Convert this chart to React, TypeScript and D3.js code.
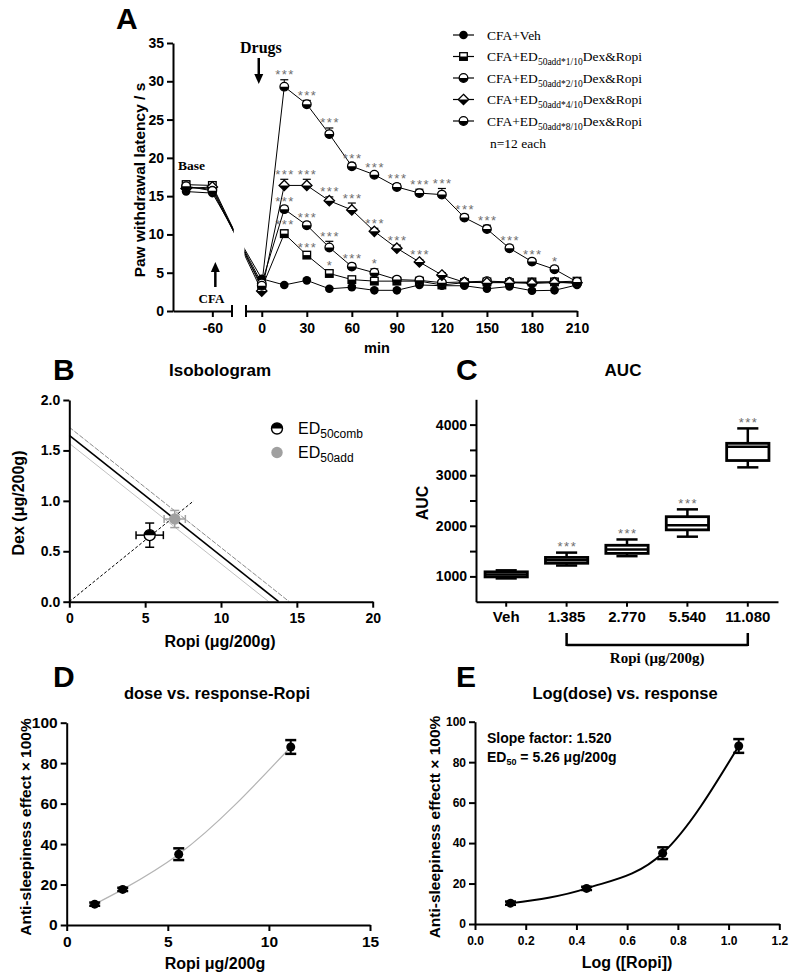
import React, { useRef, useEffect } from 'react';
import * as d3 from 'd3';

const SANS = "'Liberation Sans', Arial, Helvetica, sans-serif";
const SERIF = "'Liberation Serif', 'Times New Roman', Times, serif";
const STAR = '#6e6e6e';

// ---------- A: paw withdrawal latency over time ----------
const timePoints = [-80, -60, 0, 15, 30, 45, 60, 75, 90, 105, 120, 135, 150, 165, 180, 195, 210];
const latencyVeh = [15.6, 15.4, 4.2, 3.4, 4.0, 2.9, 3.1, 2.7, 2.7, 3.4, 3.3, 3.3, 2.9, 3.2, 2.65, 2.7, 3.4];
const latency1 = [16.5, 16.4, 3.0, 10.1, 7.3, 4.9, 4.1, 3.9, 3.9, 3.9, 3.4, 3.7, 3.8, 3.7, 3.8, 3.8, 3.9];
const latency2 = [16.2, 15.9, 3.6, 13.3, 11.2, 8.3, 5.8, 5.0, 4.1, 4.0, 3.7, 3.8, 3.9, 3.8, 3.7, 3.8, 3.6];
const latency4 = [16.0, 16.2, 2.6, 16.4, 16.4, 14.4, 13.2, 10.4, 8.2, 6.4, 4.7, 3.75, 3.7, 3.7, 3.6, 3.7, 3.7];
const latency8 = [16.3, 15.7, 3.3, 29.3, 27.0, 23.1, 18.9, 17.8, 16.2, 15.4, 15.2, 12.2, 10.7, 8.2, 6.45, 5.45, 3.8];
const semVeh = [0.4, 0.4, 0.3, 0.2, 0.2, 0.2, 0.2, 0.2, 0.2, 0.2, 0.2, 0.2, 0.2, 0.2, 0.2, 0.2, 0.2];
const sem1 = [0.5, 0.5, 0.3, 0.5, 0.4, 0.4, 0.3, 0.3, 0.3, 0.3, 0.3, 0.3, 0.3, 0.3, 0.3, 0.3, 0.3];
const sem2 = [0.5, 0.5, 0.3, 0.4, 0.4, 0.8, 0.4, 0.5, 0.3, 0.3, 0.3, 0.3, 0.3, 0.3, 0.3, 0.3, 0.3];
const sem4 = [0.5, 0.5, 0.3, 0.8, 0.8, 0.5, 0.9, 0.4, 0.4, 0.3, 0.3, 0.3, 0.3, 0.3, 0.3, 0.3, 0.3];
const sem8 = [0.6, 0.6, 0.3, 0.9, 0.5, 0.8, 0.4, 0.3, 0.4, 0.5, 0.8, 0.4, 0.5, 0.4, 0.3, 0.4, 0.3];
const sigVeh = ['', '', '', '', '', '', '', '', '', '', '', '', '', '', '', '', ''];
const sig1 = ['', '', '', '***', '***', '*', '', '', '', '', '', '', '', '', '', '', ''];
const sig2 = ['', '', '', '***', '***', '***', '***', '*', '', '', '', '', '', '', '', '', ''];
const sig4 = ['', '', '', '***', '***', '***', '***', '***', '***', '***', '', '', '', '', '', '', ''];
const sig8 = ['', '', '', '***', '***', '***', '***', '***', '***', '***', '***', '***', '***', '***', '***', '*', ''];
const legendMain = ['CFA+Veh', 'CFA+ED', 'CFA+ED', 'CFA+ED', 'CFA+ED'];
const legendSub = ['', '50add*1/10', '50add*2/10', '50add*4/10', '50add*8/10'];
const legendTail = ['', 'Dex&Ropi', 'Dex&Ropi', 'Dex&Ropi', 'Dex&Ropi'];
const latencyTicks = [0, 5, 10, 15, 20, 25, 30, 35];
const postTicks = [0, 30, 60, 90, 120, 150, 180, 210];

// ---------- B: isobologram ----------
const isoRopi = [0, 13.8];
const isoDex = [1.65, 0];
const isoUpperRopi = [0, 14.5];
const isoUpperDex = [1.73, 0];
const isoLowerRopi = [0, 13.15];
const isoLowerDex = [1.57, 0];
const rayRopi = [0, 8.2];
const rayDex = [0, 1.0];
const combPoint = { ropi: 5.3, dex: 0.66, ropiErr: 0.9, dexErr: 0.12 };
const addPoint = { ropi: 6.95, dex: 0.82, ropiErr: 0.7, dexErr: 0.085 };

// ---------- C: AUC box plots ----------
const aucGroups = ['Veh', '1.385', '2.770', '5.540', '11.080'];
const aucMin = [960, 1215, 1400, 1785, 3155];
const aucQ1 = [990, 1260, 1455, 1920, 3290];
const aucMedian = [1040, 1320, 1530, 2010, 3560];
const aucQ3 = [1090, 1375, 1615, 2180, 3630];
const aucMax = [1120, 1470, 1730, 2325, 3925];
const aucSig = ['', '***', '***', '***', '***'];
const aucTicks = [1000, 1500, 2000, 2500, 3000, 3500, 4000];

// ---------- D / E: dose response ----------
const ropiDose = [1.385, 2.77, 5.54, 11.08];
const logRopiDose = [0.14, 0.44, 0.74, 1.04];
const antiEffect = [10.3, 17.6, 35.0, 88.0];
const antiErr = [0.8, 0.8, 2.9, 3.4];

type Sel = d3.Selection<any, any, any, any>;

function styleAxis(g: Sel, size: number) {
  g.attr('font-family', SANS);
  g.select('.domain').attr('stroke', '#000').attr('stroke-width', 2);
  g.selectAll('.tick line').attr('stroke', '#000').attr('stroke-width', 2);
  g.selectAll('.tick text').attr('fill', '#000').attr('font-size', size).attr('font-weight', 'bold');
}

function addText(svg: Sel, x: number, y: number, txt: string, size: number, opts: any = {}) {
  const t = svg.append('text')
    .attr('x', x).attr('y', y)
    .attr('font-family', opts.family || SANS)
    .attr('font-weight', opts.weight || 'bold')
    .attr('font-size', size)
    .attr('fill', opts.fill || '#000')
    .attr('text-anchor', opts.anchor || 'start')
    .text(txt);
  if (opts.rotate) t.attr('transform', `rotate(-90, ${x}, ${y})`);
  return t;
}

function drawMarker(g: Sel, kind: string, x: number, y: number) {
  const m = g.append('g').attr('transform', `translate(${x},${y})`);
  if (kind === 'filled') {
    m.append('circle').attr('r', 4.3).attr('fill', '#000');
  } else if (kind === 'square') {
    const s = 3.8;
    m.append('rect').attr('x', -s).attr('y', -s).attr('width', 2 * s).attr('height', 2 * s)
      .attr('fill', '#fff').attr('stroke', '#000').attr('stroke-width', 1.3);
    m.append('rect').attr('x', -s).attr('y', 0).attr('width', 2 * s).attr('height', s).attr('fill', '#000');
  } else if (kind === 'diamond') {
    const d = 5.2;
    m.append('path').attr('d', `M0,${-d}L${d},0L0,${d}L${-d},0Z`)
      .attr('fill', '#fff').attr('stroke', '#000').attr('stroke-width', 1.3);
    m.append('path').attr('d', `M${-d},0L${d},0L0,${d}Z`).attr('fill', '#000');
  } else {
    const r = 4.3;
    m.append('circle').attr('r', r).attr('fill', '#fff').attr('stroke', '#000').attr('stroke-width', 1.3);
    m.append('path').attr('d', `M${-r},0A${r},${r} 0 0 0 ${r},0Z`).attr('fill', '#000');
  }
}

function arrow(svg: Sel, x: number, y1: number, y2: number) {
  // y1 = tail, y2 = tip
  const dir = y2 > y1 ? 1 : -1;
  svg.append('line').attr('x1', x).attr('x2', x).attr('y1', y1).attr('y2', y2 - dir * 8)
    .attr('stroke', '#000').attr('stroke-width', 2.5);
  svg.append('path').attr('d', `M${x - 4.5},${y2 - dir * 10}L${x + 4.5},${y2 - dir * 10}L${x},${y2}Z`).attr('fill', '#000');
}

function stars(g: Sel, x: number, y: number, txt: string) {
  g.append('text').attr('x', x + 0.8).attr('y', y)
    .attr('text-anchor', 'middle').attr('font-family', SANS).attr('font-size', 13)
    .attr('letter-spacing', 1.5).attr('fill', STAR).text(txt);
}

function drawPanelA(svg: Sel) {
  const yA = d3.scaleLinear().domain([0, 35]).range([311, 43]);
  const xBase = d3.scaleLinear().domain([-90, -45]).range([173, 232]);
  const xPost = d3.scaleLinear().domain([-10.5, 210]).range([246, 577]);
  const xA = (t: number) => (t < -30 ? xBase(t) : xPost(t));

  const clip = svg.append('defs').append('clipPath').attr('id', 'gapClip');
  clip.append('rect').attr('x', 0).attr('y', 0).attr('width', xBase.range()[1] + 1.5).attr('height', 978);
  clip.append('rect').attr('x', xPost.range()[0] - 1.5).attr('y', 0).attr('width', 792).attr('height', 978);

  const series = [
    { values: latencyVeh, sem: semVeh, sig: sigVeh, marker: 'filled' },
    { values: latency1, sem: sem1, sig: sig1, marker: 'square' },
    { values: latency2, sem: sem2, sig: sig2, marker: 'circle' },
    { values: latency4, sem: sem4, sig: sig4, marker: 'diamond' },
    { values: latency8, sem: sem8, sig: sig8, marker: 'circle' },
  ];

  const g = svg.append('g');
  const line = d3.line<number>().x((d, i) => xA(timePoints[i])).y(d => yA(d));

  series.forEach(s => {
    g.append('path').attr('d', line(s.values)).attr('fill', 'none')
      .attr('stroke', '#000').attr('stroke-width', 1).attr('clip-path', 'url(#gapClip)');
  });
  series.forEach(s => {
    s.values.forEach((v, i) => {
      const x = xA(timePoints[i]);
      const top = yA(v + s.sem[i]);
      g.append('line').attr('x1', x).attr('x2', x).attr('y1', yA(v)).attr('y2', top)
        .attr('stroke', '#000').attr('stroke-width', 1);
      g.append('line').attr('x1', x - 4).attr('x2', x + 4).attr('y1', top).attr('y2', top)
        .attr('stroke', '#000').attr('stroke-width', 1.2);
    });
  });
  series.forEach(s => {
    s.values.forEach((v, i) => drawMarker(g, s.marker, xA(timePoints[i]), yA(v)));
  });
  series.forEach(s => {
    s.values.forEach((v, i) => {
      if (s.sig[i]) stars(g, xA(timePoints[i]), yA(v + s.sem[i]) - 0.5, s.sig[i]);
    });
  });

  // axes
  const ay = svg.append('g').attr('transform', 'translate(173,0)')
    .call(d3.axisLeft(yA).tickValues(latencyTicks).tickSize(6).tickSizeOuter(0).tickPadding(3));
  styleAxis(ay, 14);
  const axb = svg.append('g').attr('transform', 'translate(0,311)')
    .call(d3.axisBottom(xBase).tickValues([-60]).tickSize(6).tickSizeOuter(0).tickPadding(6)
      .tickFormat(d => String(d)));
  styleAxis(axb, 14);
  const axp = svg.append('g').attr('transform', 'translate(0,311)')
    .call(d3.axisBottom(xPost).tickValues(postTicks).tickSize(6).tickSizeOuter(0).tickPadding(6)
      .tickFormat(d => String(d)));
  styleAxis(axp, 14);
  [xBase.range()[1], xPost.range()[0]].forEach(x => {
    svg.append('line').attr('x1', x).attr('x2', x).attr('y1', 305).attr('y2', 317)
      .attr('stroke', '#000').attr('stroke-width', 2);
  });

  addText(svg, 116, 29, 'A', 30);
  addText(svg, 145, 180, 'Paw withdrawal latency / s', 15.5, { anchor: 'middle', rotate: true });
  addText(svg, 377, 353, 'min', 14.5, { anchor: 'middle' });

  // annotations
  addText(svg, 240, 53, 'Drugs', 16, { family: SERIF });
  arrow(svg, xPost(0) - 3, 58, 84);
  addText(svg, 178, 170, 'Base', 13.5, { family: SERIF });
  addText(svg, 211.5, 303, 'CFA', 13, { family: SERIF, anchor: 'middle' });
  arrow(svg, xBase(-60) + 3, 287, 262);

  // legend
  const legendTop = 35;
  const rowGap = 21.5;
  const kinds = ['filled', 'square', 'circle', 'diamond', 'circle'];
  legendMain.forEach((txt, i) => {
    const y = legendTop + i * rowGap;
    svg.append('line').attr('x1', 453).attr('x2', 474).attr('y1', y).attr('y2', y)
      .attr('stroke', '#000').attr('stroke-width', 1.2);
    drawMarker(svg, kinds[i], 463.5, y);
    const t = svg.append('text').attr('x', 487).attr('y', y + 4.5)
      .attr('font-family', SERIF).attr('font-size', 13.5).attr('fill', '#000');
    t.append('tspan').text(txt);
    if (legendSub[i]) {
      t.append('tspan').attr('font-size', 9.5).attr('dy', 4).text(legendSub[i]);
      t.append('tspan').attr('dy', -4).text(legendTail[i]);
    }
  });
  addText(svg, 490, legendTop + 5 * rowGap + 5, 'n=12 each', 13.5, { family: SERIF, weight: 'normal' });
}

function drawPanelB(svg: Sel) {
  const x = d3.scaleLinear().domain([0, 20]).range([69.3, 372.7]);
  const y = d3.scaleLinear().domain([0, 2]).range([601.7, 400]);
  const seg = (xs: number[], ys: number[], stroke: string, w: number, dash?: string) => {
    const p = svg.append('line').attr('x1', x(xs[0])).attr('y1', y(ys[0]))
      .attr('x2', x(xs[1])).attr('y2', y(ys[1]))
      .attr('stroke', stroke).attr('stroke-width', w);
    if (dash) p.attr('stroke-dasharray', dash);
  };
  seg(isoUpperRopi, isoUpperDex, '#8a8a8a', 1, '5,1.5');
  seg(isoLowerRopi, isoLowerDex, '#c0c0c0', 1);
  seg(isoRopi, isoDex, '#000', 1.6);
  seg(rayRopi, rayDex, '#000', 1, '3,2');

  const errBars = (p: any, color: string) => {
    const cx = x(p.ropi), cy = y(p.dex);
    const x0 = x(p.ropi - p.ropiErr), x1 = x(p.ropi + p.ropiErr);
    const y0 = y(p.dex - p.dexErr), y1 = y(p.dex + p.dexErr);
    const ln = (a: number, b: number, c: number, d: number) => svg.append('line')
      .attr('x1', a).attr('y1', b).attr('x2', c).attr('y2', d).attr('stroke', color).attr('stroke-width', 1.5);
    ln(x0, cy, x1, cy); ln(x0, cy - 4, x0, cy + 4); ln(x1, cy - 4, x1, cy + 4);
    ln(cx, y0, cx, y1); ln(cx - 4.5, y0, cx + 4.5, y0); ln(cx - 4.5, y1, cx + 4.5, y1);
  };
  errBars(addPoint, '#a0a0a0');
  svg.append('circle').attr('cx', x(addPoint.ropi)).attr('cy', y(addPoint.dex)).attr('r', 5.7).attr('fill', '#a0a0a0');
  errBars(combPoint, '#000');
  const comb = (cx: number, cy: number) => {
    const r = 5.5;
    svg.append('circle').attr('cx', cx).attr('cy', cy).attr('r', r).attr('fill', '#fff')
      .attr('stroke', '#000').attr('stroke-width', 1.4);
    svg.append('path').attr('transform', `translate(${cx},${cy})`)
      .attr('d', `M${-r},0A${r},${r} 0 0 1 ${r},0Z`).attr('fill', '#000');
  };
  comb(x(combPoint.ropi), y(combPoint.dex));

  const ay = svg.append('g').attr('transform', `translate(${x(0)},0)`)
    .call(d3.axisLeft(y).ticks(4).tickSize(6).tickSizeOuter(0).tickPadding(3).tickFormat(d3.format('.1f')));
  styleAxis(ay, 14);
  const ax = svg.append('g').attr('transform', `translate(0,${y(0)})`)
    .call(d3.axisBottom(x).ticks(4).tickSize(6).tickSizeOuter(0).tickPadding(5));
  styleAxis(ax, 14);

  addText(svg, 53, 380, 'B', 30);
  addText(svg, 220, 376, 'Isobologram', 17, { anchor: 'middle' });
  addText(svg, 24, 503, 'Dex (μg/200g)', 16, { anchor: 'middle', rotate: true });
  addText(svg, 220, 647, 'Ropi (μg/200g)', 16, { anchor: 'middle' });

  // legend
  comb(277, 428.5);
  svg.append('circle').attr('cx', 277).attr('cy', 452.5).attr('r', 5.7).attr('fill', '#a0a0a0');
  [['50comb', 434], ['50add', 458]].forEach(([sub, yy]) => {
    const t = svg.append('text').attr('x', 298).attr('y', yy as number)
      .attr('font-family', SANS).attr('font-size', 16).attr('fill', '#000');
    t.append('tspan').text('ED');
    t.append('tspan').attr('font-size', 12).attr('dy', 4).text(sub as string);
  });
}

function drawPanelC(svg: Sel) {
  const x = d3.scaleBand().domain(aucGroups).range([476, 778]).paddingInner(0.3).paddingOuter(0.15);
  const y = d3.scaleLinear().domain([500, 4500]).range([601.7, 399.3]);
  const w = x.bandwidth();
  aucGroups.forEach((grp, i) => {
    const x0 = x(grp) as number;
    const cx = x0 + w / 2;
    const ln = (a: number, b: number, c: number, d: number) => svg.append('line')
      .attr('x1', a).attr('y1', b).attr('x2', c).attr('y2', d).attr('stroke', '#000').attr('stroke-width', 2.5);
    ln(cx, y(aucMin[i]), cx, y(aucQ1[i]));
    ln(cx, y(aucQ3[i]), cx, y(aucMax[i]));
    ln(cx - w / 4, y(aucMin[i]), cx + w / 4, y(aucMin[i]));
    ln(cx - w / 4, y(aucMax[i]), cx + w / 4, y(aucMax[i]));
    svg.append('rect').attr('x', x0).attr('y', y(aucQ3[i])).attr('width', w)
      .attr('height', y(aucQ1[i]) - y(aucQ3[i])).attr('fill', '#fff')
      .attr('stroke', '#000').attr('stroke-width', 2.8);
    ln(x0, y(aucMedian[i]), x0 + w, y(aucMedian[i]));
    if (aucSig[i]) stars(svg, cx, y(aucMax[i]) - 1.5, aucSig[i]);
  });

  const ay = svg.append('g').attr('transform', 'translate(476,0)')
    .call(d3.axisLeft(y).tickValues(aucTicks).tickSize(6).tickSizeOuter(0).tickPadding(3)
      .tickFormat(d => (+d % 1000 === 0 ? String(d) : '')));
  styleAxis(ay, 14);
  const ax = svg.append('g').attr('transform', `translate(0,${y(500)})`)
    .call(d3.axisBottom(x).tickSize(5).tickSizeOuter(0).tickPadding(5));
  styleAxis(ax, 15);

  // dose bracket
  const bx0 = (x('1.385') as number) + w / 2;
  const bx1 = (x('11.080') as number) + w / 2;
  svg.append('path').attr('d', `M${bx0},633V646M${bx0},645H${bx1}M${bx1},633V646`)
    .attr('fill', 'none').attr('stroke', '#000').attr('stroke-width', 2.5);
  addText(svg, (bx0 + bx1) / 2, 663, 'Ropi (μg/200g)', 15, { family: SERIF, anchor: 'middle' });

  addText(svg, 456, 380, 'C', 30);
  addText(svg, 623, 376, 'AUC', 17, { anchor: 'middle' });
  addText(svg, 428, 503, 'AUC', 16, { anchor: 'middle', rotate: true });
}

function doseResponse(svg: Sel, xs: number[], x: d3.ScaleLinear<number, number>, y: d3.ScaleLinear<number, number>,
  curveColor: string, curveWidth: number) {
  const line = d3.line<number>().x((d, i) => x(xs[i])).y(d => y(d)).curve(d3.curveMonotoneX);
  svg.append('path').attr('d', line(antiEffect)).attr('fill', 'none')
    .attr('stroke', curveColor).attr('stroke-width', curveWidth);
  antiEffect.forEach((v, i) => {
    const cx = x(xs[i]);
    const top = y(v + antiErr[i]), bot = y(v - antiErr[i]);
    svg.append('line').attr('x1', cx).attr('x2', cx).attr('y1', top).attr('y2', bot)
      .attr('stroke', '#000').attr('stroke-width', 2);
    [top, bot].forEach(yy => svg.append('line').attr('x1', cx - 5.5).attr('x2', cx + 5.5)
      .attr('y1', yy).attr('y2', yy).attr('stroke', '#000').attr('stroke-width', 2.5));
    svg.append('circle').attr('cx', cx).attr('cy', y(v)).attr('r', 4.5).attr('fill', '#000');
  });
}

function drawPanelD(svg: Sel) {
  const x = d3.scaleLinear().domain([0, 15]).range([66.7, 370]);
  const y = d3.scaleLinear().domain([0, 100]).range([925, 722.7]);
  doseResponse(svg, ropiDose, x, y, '#b4b4b4', 1.2);
  const ay = svg.append('g').attr('transform', `translate(${x(0)},0)`)
    .call(d3.axisLeft(y).ticks(5).tickSize(6).tickSizeOuter(0).tickPadding(3));
  styleAxis(ay, 15.5);
  const ax = svg.append('g').attr('transform', `translate(0,${y(0)})`)
    .call(d3.axisBottom(x).ticks(3).tickSize(6).tickSizeOuter(0).tickPadding(5));
  styleAxis(ax, 15.5);
  addText(svg, 53, 687, 'D', 30);
  addText(svg, 217, 699, 'dose vs. response-Ropi', 16.5, { anchor: 'middle' });
  addText(svg, 31, 827, 'Anti-sleepiness effect × 100%', 15.5, { anchor: 'middle', rotate: true });
  addText(svg, 215, 969, 'Ropi μg/200g', 16, { anchor: 'middle' });
}

function drawPanelE(svg: Sel) {
  const x = d3.scaleLinear().domain([0, 1.2]).range([475, 779.3]);
  const y = d3.scaleLinear().domain([0, 100]).range([924, 721.7]);
  doseResponse(svg, logRopiDose, x, y, '#000', 2);
  const ay = svg.append('g').attr('transform', `translate(${x(0)},0)`)
    .call(d3.axisLeft(y).ticks(5).tickSize(6).tickSizeOuter(0).tickPadding(3));
  styleAxis(ay, 12);
  const ax = svg.append('g').attr('transform', `translate(0,${y(0)})`)
    .call(d3.axisBottom(x).ticks(6).tickSize(6).tickSizeOuter(0).tickPadding(6).tickFormat(d3.format('.1f')));
  styleAxis(ax, 12);
  addText(svg, 456, 687, 'E', 30);
  addText(svg, 625, 699, 'Log(dose) vs. response', 16.5, { anchor: 'middle' });
  addText(svg, 440, 827, 'Anti-sleepiness effectt × 100%', 15.5, { anchor: 'middle', rotate: true });
  addText(svg, 627, 968, 'Log ([Ropi])', 16, { anchor: 'middle' });
  addText(svg, 487, 743, 'Slope factor: 1.520', 14);
  const t = svg.append('text').attr('x', 487).attr('y', 762).attr('font-family', SANS)
    .attr('font-weight', 'bold').attr('font-size', 14).attr('fill', '#000');
  t.append('tspan').text('ED');
  t.append('tspan').attr('font-size', 9).attr('dy', 3).text('50');
  t.append('tspan').attr('dy', -3).text(' = 5.26 μg/200g');
}

function App() {
  const svgRef = useRef<SVGSVGElement>(null);

  useEffect(() => {
    const svg = d3.select(svgRef.current);
    svg.selectAll('*').remove();
    svg.append('rect').attr('width', 792).attr('height', 978).attr('fill', '#fff');
    drawPanelA(svg);
    drawPanelB(svg);
    drawPanelC(svg);
    drawPanelD(svg);
    drawPanelE(svg);
  }, []);

  return (
    <svg ref={svgRef} width={792} height={978}
      style={{ position: 'absolute', left: 0, top: 0, display: 'block' }} />
  );
}

export default App;
